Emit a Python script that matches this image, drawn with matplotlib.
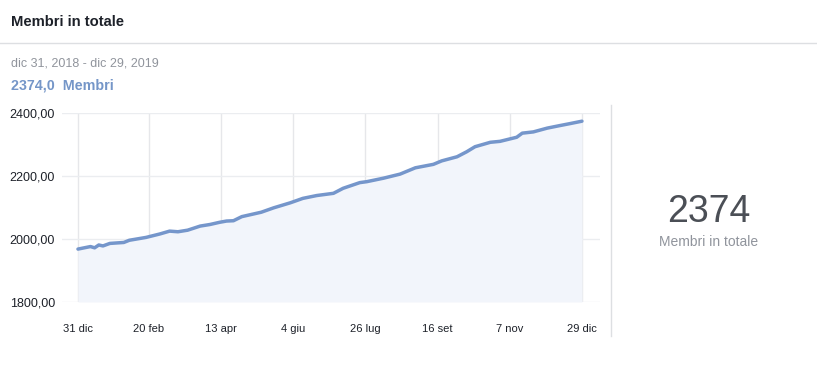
import matplotlib
matplotlib.use("Agg")
import matplotlib.pyplot as plt
from matplotlib.lines import Line2D

# Members over the period (day 0 = 31 dic 2018)
days = [0, 9, 12, 15, 18, 23, 33, 37, 49, 59, 66, 72, 79, 88, 95, 102, 107, 112,
        118, 132, 141, 153, 162, 172, 184, 191, 203, 208, 220, 232, 243, 256, 262,
        273, 280, 286, 297, 304, 316, 320, 328, 338, 347, 354, 363]
members = [1968, 1976, 1972, 1981, 1978, 1986, 1989, 1996, 2005, 2016, 2025, 2023,
           2028, 2041, 2046, 2053, 2057, 2058, 2071, 2085, 2099, 2115, 2129, 2138,
           2145, 2161, 2179, 2182, 2193, 2206, 2226, 2237, 2248, 2261, 2277, 2293,
           2307, 2310, 2323, 2336, 2340, 2352, 2360, 2366, 2374]

tick_days = [0, 51, 103, 155, 207, 259, 311, 363]
tick_labels = ["31 dic", "20 feb", "13 apr", "4 giu", "26 lug", "16 set", "7 nov", "29 dic"]
y_ticks = [1800, 2000, 2200, 2400]

plt.rcParams['font.family'] = ['Liberation Sans', 'DejaVu Sans']

W, H = 817, 365
fig = plt.figure(figsize=(W / 100, H / 100), dpi=100)
fig.patch.set_facecolor("white")

# header texts
fig.text(11 / W, 1 - 22 / H, "Membri in totale", fontsize=10.6, fontweight="bold",
         color="#1d2129", va="center", ha="left")
fig.add_artist(Line2D([0, 1], [1 - 43 / H, 1 - 43 / H], color="#dddfe2", lw=1))
fig.text(11 / W, 1 - 63 / H, "dic 31, 2018 - dic 29, 2019", fontsize=9,
         color="#90949c", va="center", ha="left")
fig.text(11 / W, 1 - 85 / H, "2374,0  Membri", fontsize=10.3, fontweight="bold",
         color="#7596c8", va="center", ha="left")

# chart
ax = fig.add_axes([62 / W, 1 - 302 / H, (600 - 62) / W, (302 - 113) / H])
ax.fill_between(days, members, 1800, color="#f2f5fb", lw=0)
ax.plot(days, members, color="#7596cb", lw=2.5, solid_capstyle="round")
ax.set_xlim(-11.5, 376)
ax.set_ylim(1800, 2400)
ax.set_xticks(tick_days)
ax.set_xticklabels(tick_labels)
ax.set_yticks(y_ticks)
ax.set_yticklabels([f"{v:.2f}".replace(".", ",") for v in y_ticks])
ax.tick_params(length=0, labelsize=8, colors="#1d2129")
ax.tick_params(axis="x", pad=16)
ax.tick_params(axis="y", pad=5, labelsize=9)
ax.grid(axis="y", color="#ebedf0", lw=1)
ax.grid(axis="x", color="#e6e7ea", lw=1)
ax.set_axisbelow(True)
for s in ax.spines.values():
    s.set_visible(False)

# right side summary
fig.add_artist(Line2D([611 / W, 611 / W], [1 - 105 / H, 1 - 336 / H], color="#dddfe2", lw=1))
fig.text(709 / W, 1 - 212 / H, "2374", fontsize=27, color="#4b4f56",
         va="center", ha="center")
fig.text(709 / W, 1 - 242 / H, "Membri in totale", fontsize=10, color="#90949c",
         va="center", ha="center")

fig.savefig("out.png", dpi=100)
